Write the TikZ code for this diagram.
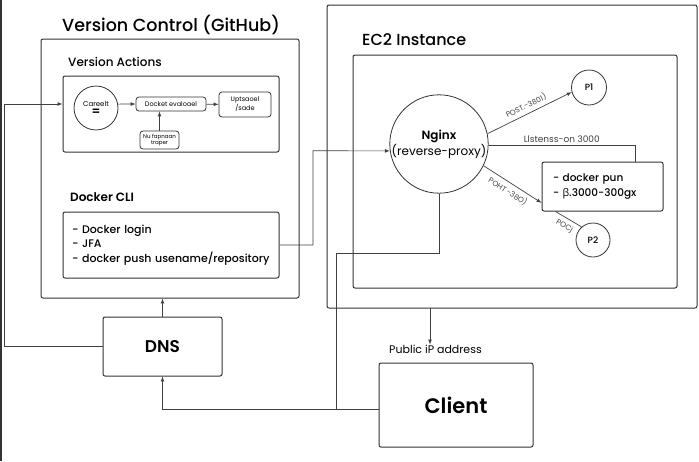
\documentclass[tikz,border=0pt]{standalone}
\usepackage{fontspec}
\setmainfont{Poppins}
\newfontfamily\medium{Poppins Medium}
\newfontfamily\semi{Poppins SemiBold}
\newfontfamily\grk{Open Sans}
\usepackage{tikz}
\usetikzlibrary{arrows}
\hyphenpenalty=10000
\exhyphenpenalty=10000

\begin{document}
\begin{tikzpicture}
[every node/.style={inner sep=0pt},
 frame/.style={rectangle, rounded corners=2pt, line width=1pt, draw=black!80},
 smallbox/.style={rectangle, rounded corners=3pt, line width=0.8pt, draw=black!80, align=center},
 ring/.style={circle, line width=0.8pt, draw=black!80, align=center},
 link/.style={line width=0.7pt, color=black!75},
 tiny/.style={font=\fontsize{7.5}{8.5}\selectfont}]
\useasboundingbox (0pt,0pt) rectangle (699pt,-461pt);
\draw [line width=1.2pt, color=black!80] (1pt,0pt) -- (1pt,-461pt);
\node (1) [frame, minimum width=258pt, minimum height=259pt] at (170pt,-168.5pt) {};
\node (2) [frame, minimum width=216pt, minimum height=76pt] at (171pt,-114pt) {};
\node (3) [ring, minimum size=44pt, font=\fontsize{7}{8}\selectfont] at (96pt,-108pt) {Careelt\\[1pt]{\fontsize{12}{10}\selectfont\semi =}};
\node (4) [smallbox, minimum width=70pt, minimum height=14pt, font=\fontsize{6.5}{7.5}\selectfont] at (171pt,-104pt) {Docket evaloael};
\node (5) [smallbox, minimum width=52pt, minimum height=25pt, font=\fontsize{6.5}{6.5}\selectfont] at (245pt,-104.5pt) {Uptsaoel\\/sade};
\node (6) [smallbox, minimum width=39pt, minimum height=18pt, font=\fontsize{5.5}{6.5}\selectfont] at (159.5pt,-140pt) {Nu fapnaan\\traper};
\node (7) [frame, text width=198pt, inner xsep=9pt, minimum height=66pt, align=left, font=\fontsize{11}{14.5}\selectfont\medium] at (171pt,-245pt) {- Docker login\\- JFA\\- docker push usename/repository};
\node (8) [frame, minimum width=119pt, minimum height=59pt, font=\fontsize{17}{17}\selectfont\semi] at (162.5pt,-346.5pt) {DNS};
\node (9) [frame, minimum width=370pt, minimum height=303pt] at (512pt,-156.5pt) {};
\node (10) [frame, minimum width=324pt, minimum height=233pt] at (515pt,-171.5pt) {};
\node (11) [ring, minimum size=98pt, font=\fontsize{12}{16}\selectfont] at (439pt,-144pt) {{\semi Nginx}\\(reverse-proxy)};
\node (12) [ring, minimum size=35pt, font=\fontsize{9}{9}\selectfont\medium] at (589pt,-87.5pt) {P1};
\node (13) [frame, text width=99pt, inner xsep=11pt, minimum height=49pt, align=left, font=\fontsize{10.5}{14.5}\selectfont\medium] at (602.5pt,-186.5pt) {- docker pun\\- {\grk β}.3000-300gx};
\node (14) [ring, minimum size=34pt, font=\fontsize{9}{9}\selectfont\medium] at (593pt,-240pt) {P2};
\node (15) [frame, minimum width=154pt, minimum height=84pt, font=\fontsize{21}{21}\selectfont\semi] at (456pt,-405pt) {Client};
\node (t1) [font=\fontsize{17.5}{18}\selectfont\medium] at (171pt,-25pt) {Version Control (GitHub)};
\node (t2) [anchor=west, font=\fontsize{12}{12}\selectfont\medium] at (68pt,-62pt) {Version Actions};
\node (t3) [anchor=west, font=\fontsize{12}{12}\selectfont\semi] at (70pt,-197pt) {Docker CLI};
\node (t4) [anchor=west, font=\fontsize{16}{16}\selectfont\medium] at (362pt,-40pt) {EC2 Instance};
\node (t5) [font=\fontsize{11}{11}\selectfont] at (435.5pt,-349pt) {Public iP address};
\coordinate (a) at (4pt,-104pt);
\coordinate (b) at (313pt,-150.8pt);
\coordinate (c) at (635pt,-162pt);
\coordinate (d) at (336pt,-253pt);
\coordinate (e) at (336pt,-409pt);
\coordinate (f) at (430pt,-308pt);
\draw [link, ->, >=latex] (3.10) -- (4.west);
\draw [link, ->, >=latex] (4) -- (5);
\draw [link, ->, >=latex] (6) -- (6 |- 4.south);
\draw [link, ->, >=latex] (8.west) -| (a) -- (a -| 2.west);
\draw [link, ->, >=latex] (8.north) -- (8.north |- 1.south);
\draw [link, ->, >=latex] (7.east) -| (b) -- (11.188);
\draw [link, ->, >=latex] (11.12) -- (12.195) node [midway, above=3.5pt, sloped, tiny] {POST.-3801)};
\draw [link, ->, >=latex] (11.334) -- (13.195) node [midway, below=4pt, sloped, tiny] {POHT -38O)};
\draw [link] (11.358) -| (c) node [pos=0.25, above=3pt, font=\fontsize{9}{9}\selectfont] {Llstenss-on 3000};
\draw [link] (14.131) -- (13.208) node [midway, below=4pt, sloped, tiny] {POCj};
\draw [link] (11.south) |- (d) -- (e);
\draw [link, ->, >=latex] (15.183) -| (8.south);
\draw [link, ->, >=latex] (f) -- (f |- t5.north);
\end{tikzpicture}
\end{document}
